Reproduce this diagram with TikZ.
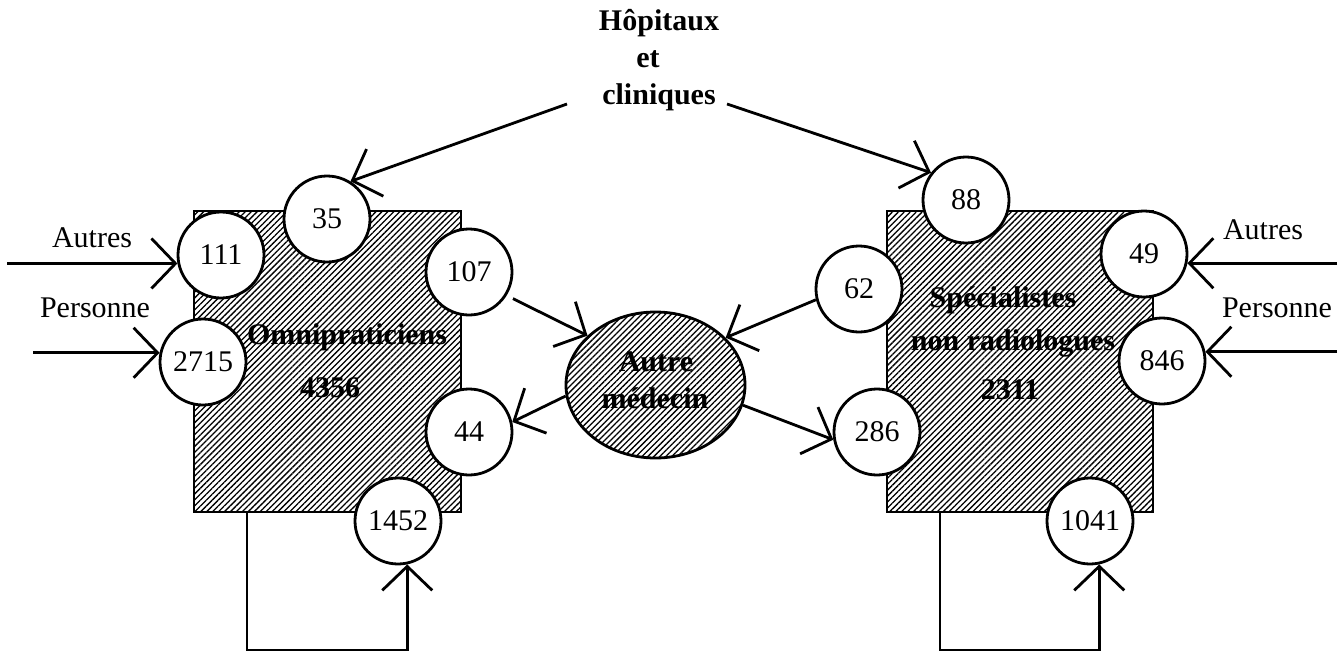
\documentclass[tikz,border=0pt]{standalone}
\usepackage{fontspec}
\setmainfont{Liberation Serif}
\usetikzlibrary{arrows.meta,patterns.meta,shapes.geometric}
\begin{document}
\begin{tikzpicture}[x=1pt,y=-1pt,
  lw/.style={line width=2.8pt},
  hatch/.style={pattern={Lines[angle=45,distance=4.2pt,line width=1.3pt]}},
  boxnode/.style={draw,lw,hatch,minimum width=267pt,minimum height=301pt,inner sep=0pt},
  circ/.style={circle,draw,lw,fill=white,minimum size=86pt,inner sep=0pt,font=\fontsize{30}{34}\selectfont},
  lbl/.style={font=\fontsize{30}{34}\selectfont,inner sep=0pt},
  blbl/.style={font=\fontsize{30}{34}\selectfont\bfseries,inner sep=0pt},
  arr/.style={lw,-{Straight Barb[length=24pt,width=50pt]}}]
\useasboundingbox (0,0) rectangle (1344,653);

% boxes and ellipse
\node[boxnode] (lbox) at (327.5,361.5) {};
\node[boxnode,minimum width=266pt] (rbox) at (1020,361.5) {};
\node[draw,lw,hatch,ellipse,minimum width=179pt,minimum height=146pt,inner sep=0pt] (ell) at (655.5,385) {};

% circles
\node[circ] (c35) at (327,219) {35};
\node[circ] (c111) at (221,255) {111};
\node[circ] (c107) at (469,272) {107};
\node[circ] (c2715) at (203,362) {2715};
\node[circ] (c44) at (469,432) {44};
\node[circ] (c1452) at (398,521) {1452};
\node[circ] (c88) at (966,200) {88};
\node[circ] (c49) at (1144,254) {49};
\node[circ] (c62) at (859,289) {62};
\node[circ] (c846) at (1162,361) {846};
\node[circ] (c286) at (877,432) {286};
\node[circ] (c1041) at (1090,521) {1041};

% texts
\node[blbl,align=center,font=\fontsize{30}{37}\selectfont\bfseries] (hop) at (659,60) {H\^opitaux\\\hbox{et\kern22pt}\\cliniques};
\node[blbl] (omni) at (347,337) {Omnipraticiens};
\node[blbl] (omnin) at (330,388) {4356};
\node[blbl] (spec1) at (1003,300) {Spécialistes};
\node[blbl] (spec2) at (1013,343) {non radiologues};
\node[blbl] (specn) at (1010,390) {2311};
\node[blbl] (ell1) at (656,362) {Autre};
\node[blbl] (ell2) at (655,398) {médecin};
\node[lbl] (autL) at (92,238) {Autres};
\node[lbl] (perL) at (95,308) {Personne};
\node[lbl] (autR) at (1263,230) {Autres};
\node[lbl] (perR) at (1277,308) {Personne};

% connectors
\coordinate (aLs) at (7,0);
\coordinate (pLs) at (33,0);
\coordinate (aRs) at (1337,0);
\draw[arr] (c111.191 -| aLs) -- (c111.191);
\draw[arr] (c2715.168 -| pLs) -- (c2715.168);
\draw[arr] (c49.348 -| aRs) -- (c49.348);
\draw[arr] (c846.12 -| aRs) -- (c846.12);

\coordinate (hl) at (567,104);
\coordinate (hr) at (727,104);
\draw[arr] (hl) -- (c35.58);
\draw[arr] (hr) -- (c88.142);

\draw[arr,shorten <=7pt] (c107.-32) -- (ell.144);
\draw[arr] (ell.187) -- (c44.13);
\draw[arr] (c62.194) -- (ell.34);
\draw[arr] (ell.-13) -- (c286.190);

\coordinate (l1) at (247,650);
\coordinate (r1) at (940,650);
\draw[arr] (lbox.south -| l1) -- (l1) -| (c1452.-78);
\draw[arr] (rbox.south -| r1) -- (r1) -| (c1041.-78);
\end{tikzpicture}
\end{document}
